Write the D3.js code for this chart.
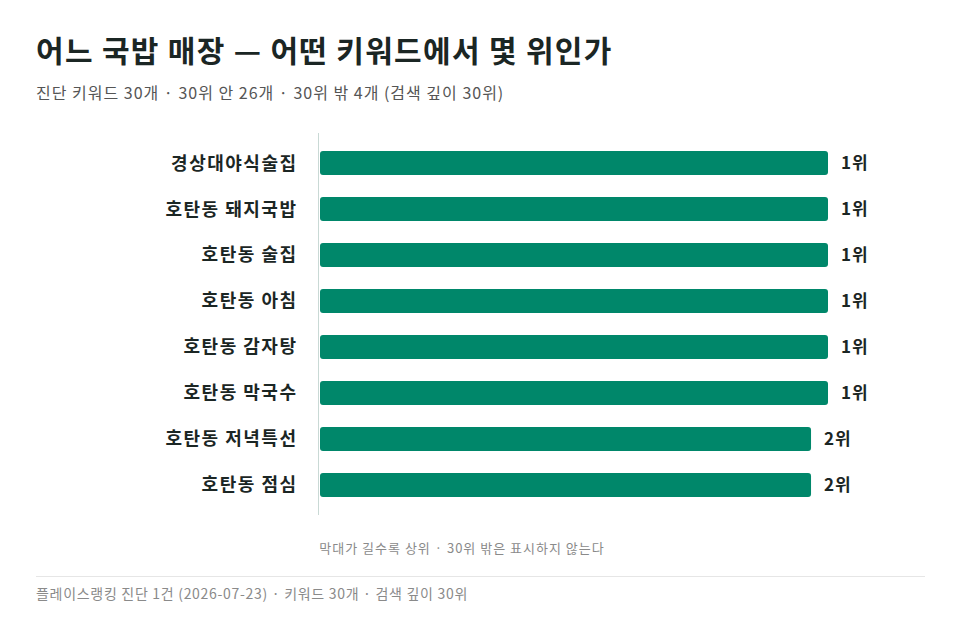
<!DOCTYPE html>
<html><head><meta charset="utf-8">
<script src="https://cdn.jsdelivr.net/npm/d3@7"></script>
<style>
body{margin:0;background:#fff;}
svg text{font-family:"Noto Sans CJK KR","Noto Sans",sans-serif;}
</style></head>
<body>
<svg id="c" width="960" height="623"></svg>
<script>
const keywords = ["경상대야식술집","호탄동 돼지국밥","호탄동 술집","호탄동 아침","호탄동 감자탕","호탄동 막국수","호탄동 저녁특선","호탄동 점심"];
const ranks = [1,1,1,1,1,1,2,2];
const depth = 30;
const title = "어느 국밥 매장 — 어떤 키워드에서 몇 위인가";
const subtitle = "진단 키워드 30개 · 30위 안 26개 · 30위 밖 4개 (검색 깊이 30위)";
const note = "막대가 길수록 상위 · 30위 밖은 표시하지 않는다";
const footer = "플레이스랭킹 진단 1건 (2026-07-23) · 키워드 30개 · 검색 깊이 30위";

const svg = d3.select("#c");
svg.append("text").attr("x",36).attr("y",62).attr("font-size",30).attr("font-weight",700)
  .attr("letter-spacing",1.3).attr("fill","#1b2624").text(title);
svg.append("text").attr("x",36).attr("y",99).attr("font-size",16).attr("letter-spacing",1.0)
  .attr("fill","#555").text(subtitle);

const x = d3.scaleLinear().domain([0, depth]).range([319, 828]);
const y = d3.scaleBand().domain(keywords).range([140, 508]).paddingInner(0.478).paddingOuter(0.24);

svg.append("line").attr("x1",318.5).attr("x2",318.5).attr("y1",133).attr("y2",515).attr("stroke","#c9d9d5").attr("stroke-width",1);

const g = svg.append("g");
g.selectAll("rect").data(keywords).join("rect")
  .attr("x", x(0)+1)
  .attr("y", d=>y(d))
  .attr("height", y.bandwidth())
  .attr("width", (d,i)=> x(depth - ranks[i] + 1) - x(0) - 1)
  .attr("rx",3)
  .attr("fill","#00876a");

g.selectAll("text.lab").data(keywords).join("text").attr("class","lab")
  .attr("x",297.5).attr("y", d=>y(d)+y.bandwidth()/2).attr("dy","0.36em")
  .attr("text-anchor","end").attr("font-size",18).attr("font-weight",700).attr("letter-spacing",1.5)
  .attr("fill","#1b2624")
  .text(d=>d);

g.selectAll("text.val").data(keywords).join("text").attr("class","val")
  .attr("x",(d,i)=> x(depth - ranks[i] + 1) + 13).attr("y", d=>y(d)+y.bandwidth()/2).attr("dy","0.36em")
  .attr("font-size",17).attr("font-weight",700).attr("letter-spacing",1).attr("fill","#1b2624")
  .text((d,i)=> ranks[i] + "위");

svg.append("text").attr("x",462).attr("y",553).attr("text-anchor","middle").attr("font-size",13)
  .attr("letter-spacing",1.0).attr("fill","#8a8a8a").text(note);
svg.append("line").attr("x1",36).attr("x2",925).attr("y1",576.5).attr("y2",576.5).attr("stroke","#e6e6e6");
svg.append("text").attr("x",36).attr("y",599).attr("font-size",14).attr("letter-spacing",0.7)
  .attr("fill","#8a8a8a").text(footer);
</script>
</body></html>
